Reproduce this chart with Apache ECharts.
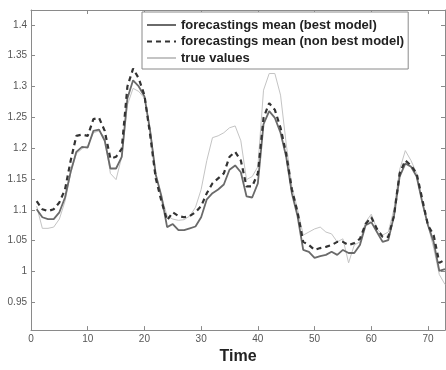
<!DOCTYPE html>
<html>
<head>
<meta charset="utf-8">
<style>
  html, body { margin: 0; padding: 0; background: #fff; }
  #chart { width: 446px; height: 370px; }
</style>
<script src="https://cdn.jsdelivr.net/npm/echarts@6/dist/echarts.min.js"></script>
</head>
<body>
<div id="chart"></div>
<script>
var time = [];
for (var i = 1; i <= 73; i++) time.push(i);

var bestModel = [
  1.101, 1.088, 1.085, 1.085, 1.096, 1.120, 1.162, 1.194, 1.202, 1.201,
  1.228, 1.230, 1.212, 1.167, 1.167, 1.186, 1.281, 1.310, 1.300, 1.284,
  1.228, 1.157, 1.122, 1.072, 1.077, 1.067, 1.067, 1.070, 1.073, 1.088,
  1.117, 1.127, 1.133, 1.141, 1.165, 1.172, 1.161, 1.122, 1.120, 1.143,
  1.239, 1.260, 1.249, 1.225, 1.186, 1.127, 1.090, 1.035, 1.032, 1.022,
  1.025, 1.027, 1.032, 1.027, 1.035, 1.030, 1.030, 1.043, 1.075, 1.080,
  1.064, 1.048, 1.051, 1.090, 1.154, 1.175, 1.170, 1.154, 1.112, 1.075,
  1.048, 1.001, 1.004
];

var nonBestModel = [
  1.114, 1.101, 1.098, 1.101, 1.112, 1.133, 1.180, 1.220, 1.222, 1.220,
  1.247, 1.249, 1.228, 1.183, 1.186, 1.199, 1.300, 1.329, 1.313, 1.286,
  1.222, 1.151, 1.114, 1.083, 1.096, 1.090, 1.088, 1.090, 1.096, 1.106,
  1.127, 1.143, 1.151, 1.159, 1.186, 1.194, 1.180, 1.138, 1.138, 1.159,
  1.249, 1.273, 1.262, 1.233, 1.191, 1.133, 1.096, 1.048, 1.043, 1.035,
  1.038, 1.040, 1.043, 1.048, 1.048, 1.043, 1.046, 1.053, 1.077, 1.088,
  1.069, 1.056, 1.056, 1.090, 1.159, 1.180, 1.172, 1.159, 1.117, 1.075,
  1.059, 1.014, 1.019
];

var trueValues = [
  1.106, 1.070, 1.070, 1.072, 1.085, 1.114, 1.159, 1.191, 1.199, 1.204,
  1.225, 1.228, 1.217, 1.159, 1.149, 1.186, 1.270, 1.297, 1.292, 1.281,
  1.233, 1.159, 1.122, 1.090, 1.085, 1.083, 1.084, 1.090, 1.104, 1.133,
  1.180, 1.217, 1.220, 1.225, 1.233, 1.236, 1.212, 1.149, 1.154, 1.170,
  1.294, 1.321, 1.321, 1.286, 1.207, 1.138, 1.101, 1.059, 1.064, 1.069,
  1.072, 1.064, 1.061, 1.048, 1.053, 1.014, 1.043, 1.048, 1.080, 1.093,
  1.069, 1.059, 1.064, 1.101, 1.165, 1.196, 1.180, 1.159, 1.112, 1.075,
  1.038, 0.995, 0.979
];

var xTicks = [0, 10, 20, 30, 40, 50, 60, 70];
var yTicks = [0.95, 1, 1.05, 1.1, 1.15, 1.2, 1.25, 1.3, 1.35, 1.4];

var names = ['forecastings mean (best model)', 'forecastings mean (non best model)', 'true values'];

function pair(ys) {
  return ys.map(function (v, i) { return [time[i], v]; });
}

var axisLine = { show: true, onZero: false, lineStyle: { color: '#8a8a8a', width: 1 } };

function xAx(pos, labels) {
  return {
    type: 'value', position: pos, min: 0, max: 73,
    axisLine: axisLine,
    axisTick: { show: true, inside: true, length: 4, customValues: xTicks, lineStyle: { color: '#8a8a8a' } },
    axisLabel: { show: labels, customValues: xTicks, margin: 4, color: '#555', fontSize: 10, fontFamily: 'Liberation Sans' },
    splitLine: { show: false },
    name: labels ? 'Time' : '',
    nameLocation: 'middle', nameGap: 15,
    nameTextStyle: { color: '#222', fontSize: 16, fontWeight: 'bold', fontFamily: 'Liberation Sans' }
  };
}

function yAx(pos, labels) {
  return {
    type: 'value', position: pos, min: 0.905, max: 1.424,
    axisLine: axisLine,
    axisTick: { show: true, inside: true, length: 4, customValues: yTicks, lineStyle: { color: '#8a8a8a' } },
    axisLabel: { show: labels, customValues: yTicks, margin: 4, color: '#555', fontSize: 10, fontFamily: 'Liberation Sans' },
    splitLine: { show: false }
  };
}

var option = {
  backgroundColor: '#fff',
  animation: false,
  grid: { left: 31, right: 1, top: 10, bottom: 33 },
  legend: {
    orient: 'vertical',
    left: 142, top: 12,
    padding: [6, 4, 4, 4],
    itemWidth: 29, itemHeight: 14, itemGap: 2.5,
    itemStyle: { opacity: 0 },
    backgroundColor: '#fff',
    borderColor: '#8a8a8a', borderWidth: 1,
    textStyle: { fontSize: 13, fontWeight: 'bold', color: '#222', fontFamily: 'Liberation Sans', lineHeight: 14 },
    data: names
  },
  xAxis: [xAx('bottom', true), xAx('top', false)],
  yAxis: [yAx('left', true), yAx('right', false)],
  series: [
    {
      name: names[2], type: 'line', symbol: 'none', data: pair(trueValues),
      lineStyle: { color: '#c4c4c4', width: 1 }, itemStyle: { color: '#c4c4c4' }, z: 1
    },
    {
      name: names[0], type: 'line', symbol: 'none', data: pair(bestModel),
      lineStyle: { color: '#6a6a6a', width: 1.8 }, itemStyle: { color: '#6a6a6a' }, z: 2
    },
    {
      name: names[1], type: 'line', symbol: 'none', data: pair(nonBestModel),
      lineStyle: { color: '#333', width: 2.2, type: [5, 4] }, itemStyle: { color: '#333' }, z: 3
    }
  ]
};

var chart = echarts.init(document.getElementById('chart'));
chart.setOption(option);
window.onresize = chart.resize;
</script>
</body>
</html>
